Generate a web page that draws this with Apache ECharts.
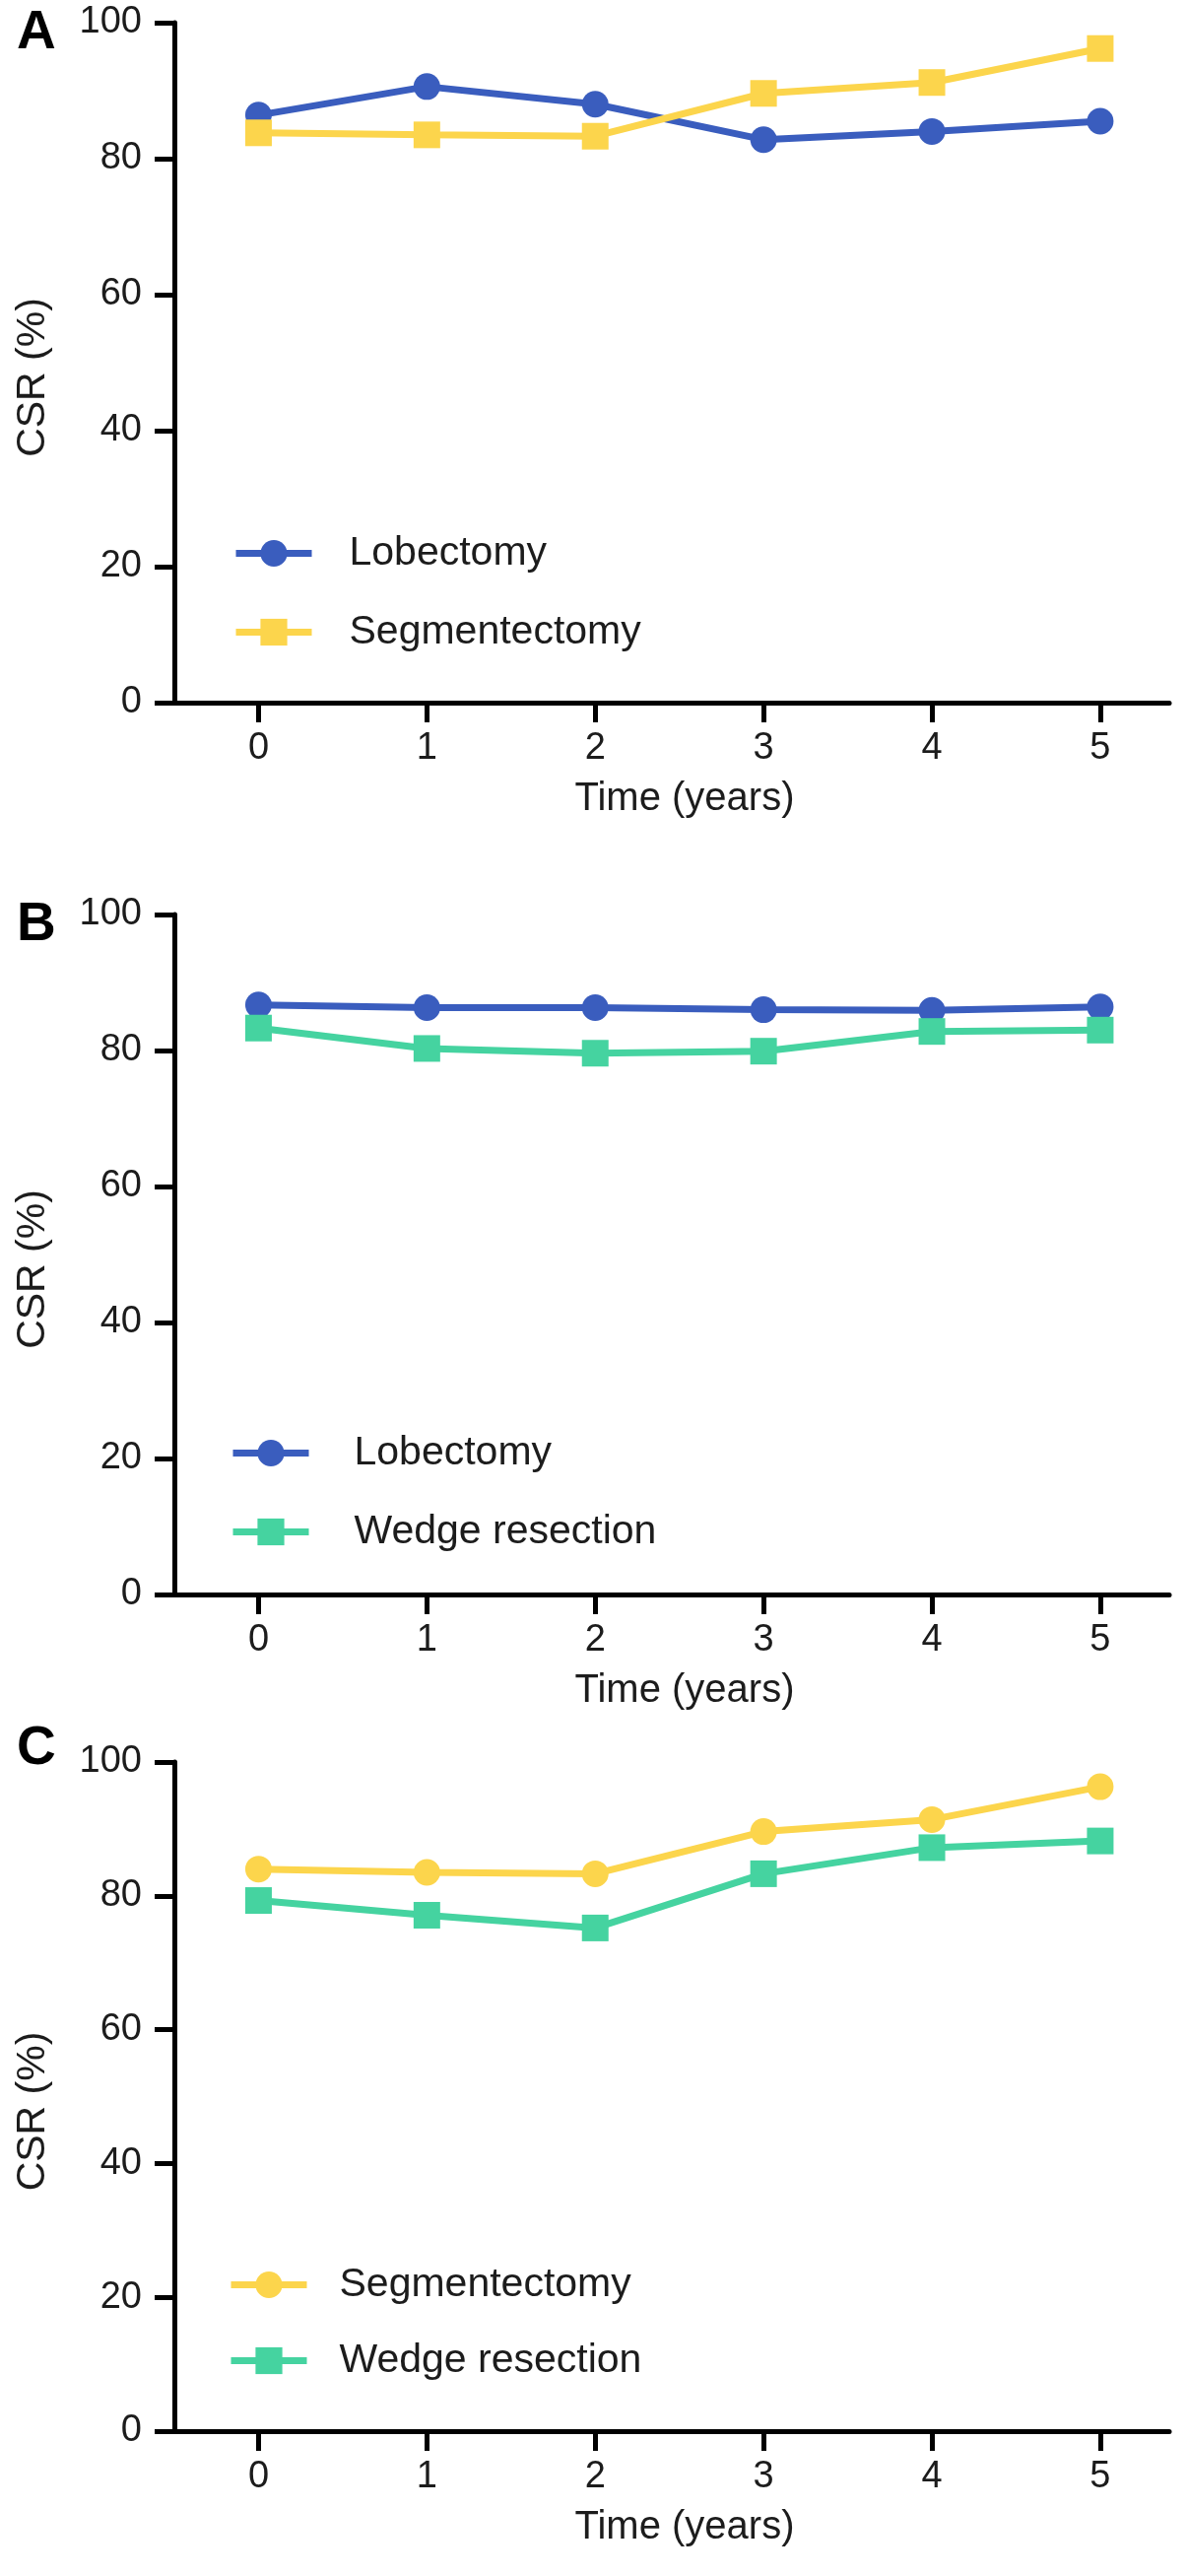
<!DOCTYPE html>
<html><head><meta charset="utf-8">
<script src="https://cdn.jsdelivr.net/npm/echarts@6/dist/echarts.min.js"></script>
<style>html,body{margin:0;padding:0;background:#fff;} .p{position:absolute;left:0;width:1205px;}</style>
</head><body>
<div id="a" class="p" style="top:0;height:870px"></div>
<div id="b" class="p" style="top:870px;height:871px"></div>
<div id="c" class="p" style="top:1741px;height:873px"></div>
<script>
const years = [0, 1, 2, 3, 4, 5];
const lobectomyA = [86.4, 90.6, 88.0, 82.8, 84.0, 85.5];
const segmentectomyA = [83.8, 83.5, 83.3, 89.6, 91.2, 96.2];
const lobectomyB = [86.7, 86.3, 86.3, 86.0, 85.9, 86.4];
const wedgeB = [83.3, 80.3, 79.6, 79.9, 82.8, 83.0];
const segmentectomyC = [84.0, 83.5, 83.3, 89.6, 91.4, 96.3];
const wedgeC = [79.3, 77.1, 75.2, 83.3, 87.2, 88.2];

const BLUE = '#3A5DBE', YELLOW = '#FCD54C', GREEN = '#45D3A0';
const TXT = '#1c1c1c';
const FONT = '"Liberation Sans", Arial, Helvetica, sans-serif';

function pts(vals) { return years.map((x, i) => [x, vals[i]]); }

function panel(id, p) {
  const chart = echarts.init(document.getElementById(id), null, {renderer: 'canvas'});
  chart.setOption({
    animation: false,
    backgroundColor: '#fff',
    textStyle: {fontFamily: FONT, color: TXT},
    graphic: [{type: 'text', left: 17, top: p.letterTop, style: {text: p.letter, font: 'bold 55px ' + FONT, fill: '#000'}}],
    grid: {left: 177, right: 18, top: p.gridTop, height: p.gridH},
    xAxis: {
      type: 'value', min: -0.5, max: 5.41,
      name: 'Time (years)', nameLocation: 'middle', nameGap: 78,
      nameTextStyle: {fontSize: 40, color: TXT, fontFamily: FONT, padding: [0, 0, 0, 26]},
      axisLine: {show: true, onZero: false, lineStyle: {color: '#000', width: 5}},
      axisTick: {show: true, length: 20, lineStyle: {color: '#000', width: 5}, customValues: years},
      axisLabel: {fontSize: 38, color: TXT, fontFamily: FONT, margin: 28, customValues: years},
      splitLine: {show: false}
    },
    yAxis: {
      type: 'value', min: 0, max: 100, interval: 20,
      name: 'CSR (%)', nameLocation: 'middle', nameGap: 123,
      nameTextStyle: {fontSize: 41, color: TXT, fontFamily: FONT, padding: [0, 30, 0, 0]},
      axisLine: {show: true, onZero: false, lineStyle: {color: '#000', width: 5}},
      axisTick: {show: true, length: 20, lineStyle: {color: '#000', width: 5}},
      axisLabel: {fontSize: 38, color: TXT, fontFamily: FONT, margin: 33},
      splitLine: {show: false}
    },
    legend: {
      orient: 'vertical', left: p.legLeft, top: p.legTop, itemWidth: 77, itemHeight: 34, itemGap: p.legGap,
      selectedMode: false,
      lineStyle: {width: 7},
      textStyle: {fontSize: 41, color: TXT, fontFamily: FONT, padding: [0, 0, 0, p.legPad]},
      data: p.series.map(s => s.name)
    },
    series: p.series.map(s => ({
      type: 'line', name: s.name, data: pts(s.data),
      symbol: s.symbol, symbolSize: 27,
      lineStyle: {color: s.color, width: 7},
      itemStyle: {color: s.color},
      emphasis: {disabled: true}
    }))
  });
}

panel('a', {
  letter: 'A', letterTop: 6, gridTop: 23, gridH: 690,
  legLeft: 231, legTop: 536, legGap: 39, legPad: 33,
  series: [
    {name: 'Lobectomy', data: lobectomyA, color: BLUE, symbol: 'circle'},
    {name: 'Segmentectomy', data: segmentectomyA, color: YELLOW, symbol: 'rect'}
  ]
});
panel('b', {
  letter: 'B', letterTop: 41, gridTop: 58, gridH: 690,
  legLeft: 228, legTop: 579, legGap: 39, legPad: 41,
  series: [
    {name: 'Lobectomy', data: lobectomyB, color: BLUE, symbol: 'circle'},
    {name: 'Wedge resection', data: wedgeB, color: GREEN, symbol: 'rect'}
  ]
});
panel('c', {
  letter: 'C', letterTop: 6, gridTop: 47, gridH: 679,
  legLeft: 226, legTop: 552, legGap: 36, legPad: 28,
  series: [
    {name: 'Segmentectomy', data: segmentectomyC, color: YELLOW, symbol: 'circle'},
    {name: 'Wedge resection', data: wedgeC, color: GREEN, symbol: 'rect'}
  ]
});
</script>
</body></html>
